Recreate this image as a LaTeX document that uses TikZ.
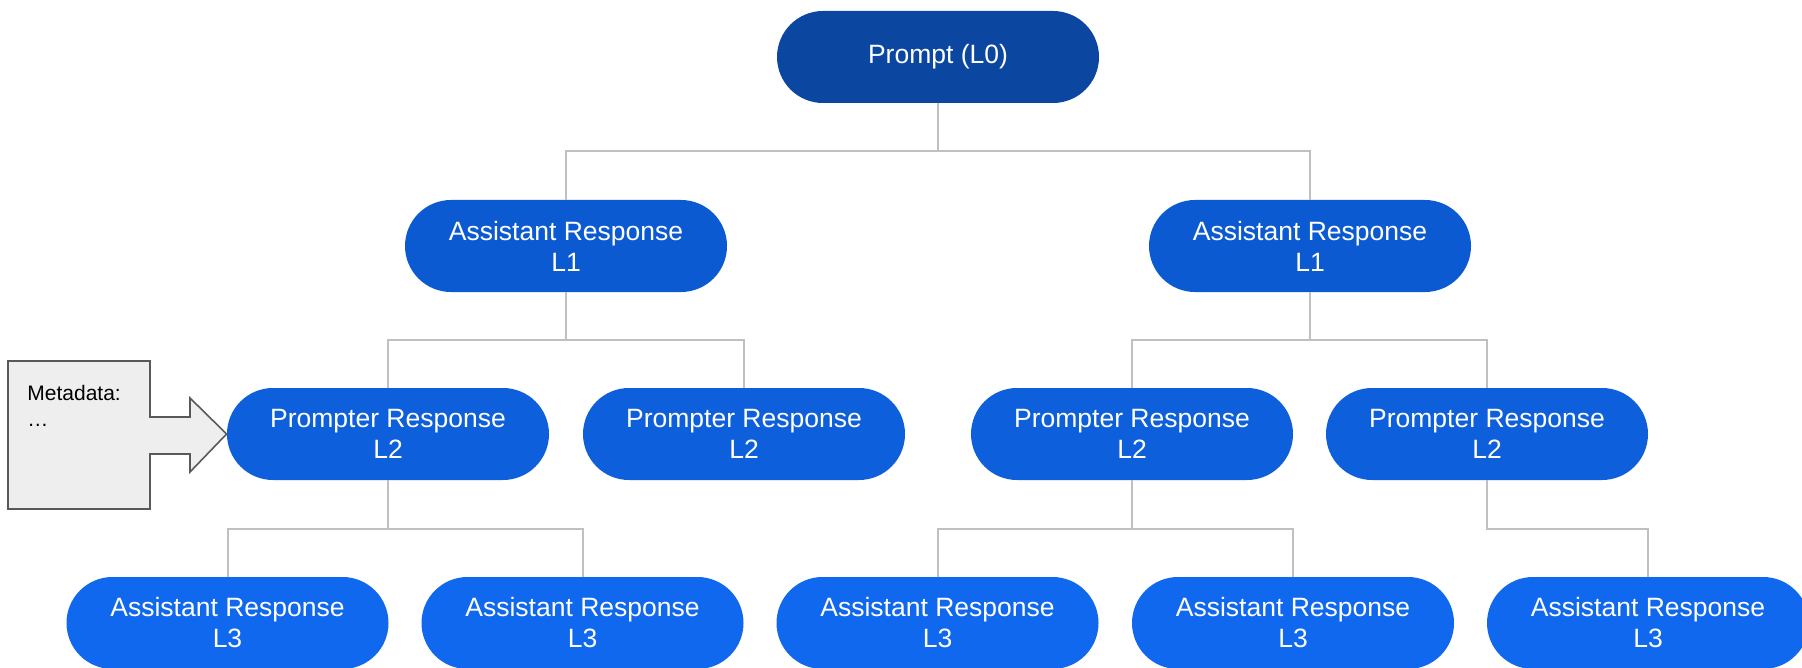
\documentclass[tikz,border=0pt]{standalone}
\usepackage{fontspec}
\setmainfont{Liberation Sans}
\usetikzlibrary{calc}

\definecolor{levelzero}{HTML}{0B47A1}
\definecolor{levelone}{HTML}{0C5AD2}
\definecolor{leveltwo}{HTML}{0E5FDC}
\definecolor{levelthree}{HTML}{1068EE}
\definecolor{linkgray}{HTML}{C0C0C0}
\definecolor{metafill}{HTML}{EEEEEE}
\definecolor{metaline}{HTML}{595959}

\tikzset{
  msg/.style={rectangle, rounded corners=23pt, minimum width=161pt, minimum height=46pt,
    inner sep=0pt, align=center, text=white, font=\fontsize{13.25}{15.5}\selectfont},
  link/.style={draw=linkgray, line width=1pt},
  metatext/.style={anchor=base west, inner sep=0pt, font=\fontsize{10.5}{13}\selectfont},
}

\begin{document}
\begin{tikzpicture}[x=0.5pt, y=-0.5pt]
  \useasboundingbox (0,0) rectangle (1802,668);
  \clip (0,0) rectangle (1802,668);

  % vertices
  \node[msg, fill=levelzero] (p0) at (938,57) {Prompt (L0)};
  \node[msg, fill=levelone] (a1) at (566,246) {Assistant Response\\L1};
  \node[msg, fill=levelone] (a2) at (1310,246) {Assistant Response\\L1};
  \node[msg, fill=leveltwo] (r1) at (388,434) {Prompter Response\\L2};
  \node[msg, fill=leveltwo] (r2) at (744,434) {Prompter Response\\L2};
  \node[msg, fill=leveltwo] (r3) at (1132,434) {Prompter Response\\L2};
  \node[msg, fill=leveltwo] (r4) at (1487,434) {Prompter Response\\L2};
  \node[msg, fill=levelthree] (b1) at (227.5,623) {Assistant Response\\L3};
  \node[msg, fill=levelthree] (b2) at (582.5,623) {Assistant Response\\L3};
  \node[msg, fill=levelthree] (b3) at (937.5,623) {Assistant Response\\L3};
  \node[msg, fill=levelthree] (b4) at (1293,623) {Assistant Response\\L3};
  \node[msg, fill=levelthree] (b5) at (1648,623) {Assistant Response\\L3};

  % links
  \draw[link] (p0.south) |- ($(p0.south)!.5!(a1.north)$) -| (a1.north);
  \draw[link] (p0.south) |- ($(p0.south)!.5!(a2.north)$) -| (a2.north);
  \draw[link] (a1.south) |- ($(a1.south)!.5!(r1.north)$) -| (r1.north);
  \draw[link] (a1.south) |- ($(a1.south)!.5!(r2.north)$) -| (r2.north);
  \draw[link] (a2.south) |- ($(a2.south)!.5!(r3.north)$) -| (r3.north);
  \draw[link] (a2.south) |- ($(a2.south)!.5!(r4.north)$) -| (r4.north);
  \draw[link] (r1.south) |- ($(r1.south)!.5!(b1.north)$) -| (b1.north);
  \draw[link] (r1.south) |- ($(r1.south)!.5!(b2.north)$) -| (b2.north);
  \draw[link] (r3.south) |- ($(r3.south)!.5!(b3.north)$) -| (b3.north);
  \draw[link] (r3.south) |- ($(r3.south)!.5!(b4.north)$) -| (b4.north);
  \draw[link] (r4.south) |- ($(r4.south)!.5!(b5.north)$) -| (b5.north);

  % metadata callout
  \draw[fill=metafill, draw=metaline, line width=0.8pt, line join=miter]
    (8,361) -- (150,361) -- (150,417) -- (190,417) -- (190,398) -- (r1.west)
    -- (190,472) -- (190,454) -- (150,454) -- (150,509) -- (8,509) -- cycle;
  \node[metatext] (meta) at (27,400) {Metadata:};
  \node[metatext] (dots) at (27,426) {…};

\end{tikzpicture}
\end{document}
